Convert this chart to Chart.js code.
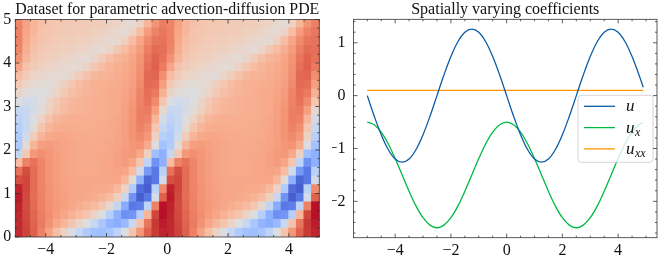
<!DOCTYPE html>
<html lang="en">
<head>
  <meta charset="UTF-8">
  <title>Parametric advection-diffusion PDE</title>
  <script src="https://cdn.jsdelivr.net/npm/chart.js@4.4.1/dist/chart.umd.min.js"></script>
  <style>
    html, body { margin: 0; padding: 0; background: #fff; }
    #wrap { position: relative; width: 664px; height: 258px; overflow: hidden; }
    canvas { position: absolute; top: 0; }
    #heatChart { left: 0; }
    #coefChart { left: 332px; }
  </style>
</head>
<body>
<div id="wrap">
  <canvas id="heatChart" width="332" height="258"></canvas>
  <canvas id="coefChart" width="332" height="258"></canvas>
</div>
<script>
// ---- left panel: u(x, t), cell centres ----
const heatX = [-4.875, -4.625, -4.375, -4.125, -3.875, -3.625, -3.375, -3.125, -2.875, -2.625,
  -2.375, -2.125, -1.875, -1.625, -1.375, -1.125, -0.875, -0.625, -0.375, -0.125,
  0.125, 0.375, 0.625, 0.875, 1.125, 1.375, 1.625, 1.875, 2.125, 2.375,
  2.625, 2.875, 3.125, 3.375, 3.625, 3.875, 4.125, 4.375, 4.625, 4.875];
const heatT = [0.1, 0.3, 0.5, 0.7, 0.9, 1.1, 1.3, 1.5, 1.7, 1.9, 2.1, 2.3, 2.5,
  2.7, 2.9, 3.1, 3.3, 3.5, 3.7, 3.9, 4.1, 4.3, 4.5, 4.7, 4.9];
const heatU = [
  [.98,.87,.71,.5,.27,.03,-.21,-.45,-.67,-.86,-.98,-1,-.94,-.74,-.42,-.03,.36,.69,.9,1, .98,.87,.71,.5,.27,.03,-.21,-.45,-.67,-.86,-.98,-1,-.94,-.74,-.42,-.03,.36,.69,.9,1],
  [.98,.85,.69,.54,.39,.24,.1,-.06,-.23,-.43,-.65,-.9,-1.1,-1.18,-1.05,-.62,-.02,.58,.92,1.02, .98,.85,.69,.54,.39,.24,.1,-.06,-.23,-.43,-.65,-.9,-1.1,-1.18,-1.05,-.62,-.02,.58,.92,1.02],
  [.99,.83,.67,.53,.42,.32,.24,.15,.05,-.06,-.22,-.44,-.8,-1.15,-1.42,-1.38,-.8,.1,.85,1.05, .99,.83,.67,.53,.42,.32,.24,.15,.05,-.06,-.22,-.44,-.8,-1.15,-1.42,-1.38,-.8,.1,.85,1.05],
  [1,.82,.65,.51,.41,.34,.28,.23,.18,.12,.06,-.07,-.3,-.68,-1.2,-1.6,-1.55,-.72,.5,1.05, 1,.82,.65,.51,.41,.34,.28,.23,.18,.12,.06,-.07,-.3,-.68,-1.2,-1.6,-1.55,-.72,.5,1.05],
  [1.02,.83,.63,.5,.4,.33,.29,.25,.23,.2,.18,.13,.05,-.18,-.62,-1.4,-1.78,-1.6,-.5,.7, 1.02,.83,.63,.5,.4,.33,.29,.25,.23,.2,.18,.13,.05,-.18,-.62,-1.4,-1.78,-1.6,-.5,.7],
  [1,.85,.63,.48,.39,.32,.28,.25,.23,.23,.22,.21,.19,.08,-.22,-.85,-1.68,-1.78,-.75,.45, 1,.85,.63,.48,.39,.32,.28,.25,.23,.23,.22,.21,.19,.08,-.22,-.85,-1.68,-1.78,-.75,.45],
  [.8,.85,.64,.48,.38,.31,.27,.25,.23,.23,.23,.23,.24,.25,.1,-.35,-1.15,-1.72,-1.6,-.55, .8,.85,.64,.48,.38,.31,.27,.25,.23,.23,.23,.23,.24,.25,.1,-.35,-1.15,-1.72,-1.6,-.55],
  [.6,.82,.64,.48,.37,.3,.26,.24,.22,.22,.22,.23,.25,.27,.25,.05,-.55,-1.35,-1.6,-.75, .6,.82,.64,.48,.37,.3,.26,.24,.22,.22,.22,.23,.25,.27,.25,.05,-.55,-1.35,-1.6,-.75],
  [.05,.5,.6,.48,.37,.3,.26,.23,.22,.21,.21,.23,.25,.28,.32,.25,-.05,-.7,-1.4,-1.15, .05,.5,.6,.48,.37,.3,.26,.23,.22,.21,.21,.23,.25,.28,.32,.25,-.05,-.7,-1.4,-1.15],
  [-.65,-.1,.35,.42,.36,.3,.26,.23,.21,.2,.21,.22,.24,.27,.32,.35,.22,-.2,-1,-1.15, -.65,-.1,.35,.42,.36,.3,.26,.23,.21,.2,.21,.22,.24,.27,.32,.35,.22,-.2,-1,-1.15],
  [-.85,-.35,.1,.3,.32,.29,.26,.23,.21,.2,.2,.21,.23,.26,.3,.36,.38,.2,-.45,-.95, -.85,-.35,.1,.3,.32,.29,.26,.23,.21,.2,.2,.21,.23,.26,.3,.36,.38,.2,-.45,-.95],
  [-.85,-.55,-.15,.12,.22,.24,.24,.22,.2,.19,.19,.2,.22,.25,.3,.38,.45,.35,-.2,-.8, -.85,-.55,-.15,.12,.22,.24,.24,.22,.2,.19,.19,.2,.22,.25,.3,.38,.45,.35,-.2,-.8],
  [-.8,-.65,-.35,-.05,.1,.17,.19,.19,.18,.18,.18,.19,.21,.24,.3,.38,.5,.42,-.05,-.65, -.8,-.65,-.35,-.05,.1,.17,.19,.19,.18,.18,.18,.19,.21,.24,.3,.38,.5,.42,-.05,-.65],
  [-.72,-.65,-.45,-.22,-.02,.1,.15,.17,.17,.17,.17,.18,.2,.23,.29,.38,.52,.5,.1,-.5, -.72,-.65,-.45,-.22,-.02,.1,.15,.17,.17,.17,.17,.18,.2,.23,.29,.38,.52,.5,.1,-.5],
  [-.65,-.62,-.5,-.35,-.18,-.05,.05,.1,.13,.15,.17,.18,.2,.22,.28,.38,.52,.55,.3,-.3, -.65,-.62,-.5,-.35,-.18,-.05,.05,.1,.13,.15,.17,.18,.2,.22,.28,.38,.52,.55,.3,-.3],
  [-.45,-.55,-.5,-.4,-.25,-.1,.02,.08,.12,.15,.17,.18,.2,.22,.27,.35,.5,.6,.45,-.05, -.45,-.55,-.5,-.4,-.25,-.1,.02,.08,.12,.15,.17,.18,.2,.22,.27,.35,.5,.6,.45,-.05],
  [-.25,-.36,-.42,-.42,-.36,-.24,-.1,0,.08,.12,.15,.17,.19,.21,.25,.32,.48,.62,.55,.15, -.25,-.36,-.42,-.42,-.36,-.24,-.1,0,.08,.12,.15,.17,.19,.21,.25,.32,.48,.62,.55,.15],
  [-.1,-.24,-.32,-.35,-.35,-.3,-.19,-.07,.03,.1,.14,.16,.18,.2,.24,.3,.45,.65,.62,.3, -.1,-.24,-.32,-.35,-.35,-.3,-.19,-.07,.03,.1,.14,.16,.18,.2,.24,.3,.45,.65,.62,.3],
  [.05,-.12,-.22,-.28,-.32,-.34,-.34,-.26,-.13,-.02,.07,.12,.15,.18,.22,.28,.42,.65,.67,.42, .05,-.12,-.22,-.28,-.32,-.34,-.34,-.26,-.13,-.02,.07,.12,.15,.18,.22,.28,.42,.65,.67,.42],
  [.25,-.02,-.12,-.18,-.22,-.27,-.3,-.33,-.32,-.21,-.07,.05,.12,.16,.2,.27,.4,.62,.7,.55, .25,-.02,-.12,-.18,-.22,-.27,-.3,-.33,-.32,-.21,-.07,.05,.12,.16,.2,.27,.4,.62,.7,.55],
  [.4,.1,-.05,-.12,-.16,-.19,-.22,-.27,-.31,-.33,-.27,-.13,0,.1,.16,.24,.38,.58,.68,.6, .4,.1,-.05,-.12,-.16,-.19,-.22,-.27,-.31,-.33,-.27,-.13,0,.1,.16,.24,.38,.58,.68,.6],
  [.48,.17,0,-.08,-.12,-.15,-.17,-.19,-.23,-.27,-.31,-.33,-.25,-.08,.05,.18,.33,.52,.64,.62, .48,.17,0,-.08,-.12,-.15,-.17,-.19,-.23,-.27,-.31,-.33,-.25,-.08,.05,.18,.33,.52,.64,.62],
  [.5,.22,.05,-.04,-.08,-.11,-.13,-.14,-.17,-.19,-.22,-.27,-.32,-.32,-.17,.05,.25,.45,.58,.6, .5,.22,.05,-.04,-.08,-.11,-.13,-.14,-.17,-.19,-.22,-.27,-.32,-.32,-.17,.05,.25,.45,.58,.6],
  [.5,.25,.1,-.02,-.06,-.08,-.1,-.12,-.13,-.14,-.17,-.19,-.24,-.3,-.34,-.21,.05,.32,.5,.57, .5,.25,.1,-.02,-.06,-.08,-.1,-.12,-.13,-.14,-.17,-.19,-.24,-.3,-.34,-.21,.05,.32,.5,.57],
  [.48,.28,.12,0,-.04,-.07,-.08,-.1,-.11,-.12,-.14,-.15,-.19,-.24,-.3,-.34,-.21,.1,.38,.52, .48,.28,.12,0,-.04,-.07,-.08,-.1,-.11,-.12,-.14,-.15,-.19,-.24,-.3,-.34,-.21,.1,.38,.52]
];
const heatXTicks = [-4, -2, 0, 2, 4];
const heatYTicks = [0, 1, 2, 3, 4, 5];
const heatTitle = 'Dataset for parametric advection-diffusion PDE';

// ---- right panel: coefficients ----
const coefX = [-5, -4.75, -4.5, -4.25, -4, -3.75, -3.5, -3.25, -3, -2.75,
  -2.5, -2.25, -2, -1.75, -1.5, -1.25, -1, -0.75, -0.5, -0.25,
  0, 0.25, 0.5, 0.75, 1, 1.25, 1.5, 1.75, 2, 2.25,
  2.5, 2.75, 3, 3.25, 3.5, 3.75, 4, 4.25, 4.5, 4.75, 4.9];
const coefU = [0, -.39, -.74, -1.02, -1.2, -1.26, -1.2, -1.02, -.74, -.39,
  0, .39, .74, 1.02, 1.2, 1.26, 1.2, 1.02, .74, .39,
  0, -.39, -.74, -1.02, -1.2, -1.26, -1.2, -1.02, -.74, -.39,
  0, .39, .74, 1.02, 1.2, 1.26, 1.2, 1.02, .74, .39, .16];
const coefUx = [-.5, -.55, -.69, -.91, -1.19, -1.5, -1.81, -2.09, -2.31, -2.45,
  -2.5, -2.45, -2.31, -2.09, -1.81, -1.5, -1.19, -.91, -.69, -.55,
  -.5, -.55, -.69, -.91, -1.19, -1.5, -1.81, -2.09, -2.31, -2.45,
  -2.5, -2.45, -2.31, -2.09, -1.81, -1.5, -1.19, -.91, -.69, -.55, -.51];
const coefUxx = [.1, .1, .1, .1, .1, .1, .1, .1, .1, .1,
  .1, .1, .1, .1, .1, .1, .1, .1, .1, .1,
  .1, .1, .1, .1, .1, .1, .1, .1, .1, .1,
  .1, .1, .1, .1, .1, .1, .1, .1, .1, .1, .1];
const coefNames = ['u', 'u_x', 'u_xx'];
const coefXTicks = [-4, -2, 0, 2, 4];
const coefYTicks = [-2, -1, 0, 1];
const coefTitle = 'Spatially varying coefficients';

// coolwarm, 33 stops
const coolwarm = [[59,76,192],[68,90,204],[77,104,215],[87,117,225],[98,130,234],[108,142,241],
  [119,154,247],[130,165,251],[141,176,254],[152,185,255],[163,194,255],[174,201,253],[184,208,249],
  [194,213,244],[204,217,238],[213,219,230],[221,221,221],[229,216,209],[236,211,197],[241,204,185],
  [245,196,173],[247,187,160],[247,177,148],[247,166,135],[244,154,123],[241,141,111],[236,127,99],
  [229,112,88],[222,96,77],[213,80,66],[203,62,56],[192,40,47],[180,4,38]];
const vMin = -1.9, vMax = 1.08;

function cmap(v) {
  let s = Math.min(1, Math.max(0, (v - vMin) / (vMax - vMin))) * (coolwarm.length - 1);
  const i = Math.min(Math.floor(s), coolwarm.length - 2), f = s - i;
  const a = coolwarm[i], b = coolwarm[i + 1];
  return 'rgb(' + a.map((c, k) => Math.round(c + (b[k] - c) * f)).join(',') + ')';
}

const fmt = v => (v < 0 ? '\u2212' + (-v) : String(v));
const SERIF = '"Liberation Serif", "Times New Roman", serif';
Chart.defaults.font.family = SERIF;
Chart.defaults.font.size = 16;
Chart.defaults.color = '#111';

// spines + inward ticks on all four sides (matplotlib "science" look)
const framePlugin = {
  id: 'frame',
  afterDraw(chart, args, o) {
    const { ctx, chartArea: a } = chart;
    const xs = chart.scales[o.x], ys = chart.scales[o.y];
    const minors = (s, step, majors) => {
      const out = [];
      for (let k = Math.ceil(s.min / step - 1e-9); k * step <= s.max + 1e-9; k++) {
        const v = k * step;
        if (!majors.some(m => Math.abs(m - v) < 1e-6)) out.push(v);
      }
      return out;
    };
    ctx.save();
    ctx.strokeStyle = '#333';
    ctx.lineWidth = 0.8;
    ctx.strokeRect(a.left, a.top, a.right - a.left, a.bottom - a.top);
    const xt = (vals, len) => vals.forEach(v => {
      const p = xs.getPixelForValue(v);
      ctx.beginPath();
      ctx.moveTo(p, a.bottom); ctx.lineTo(p, a.bottom - len);
      ctx.moveTo(p, a.top); ctx.lineTo(p, a.top + len);
      ctx.stroke();
    });
    const yt = (vals, len) => vals.forEach(v => {
      const p = ys.getPixelForValue(v);
      ctx.beginPath();
      ctx.moveTo(a.left, p); ctx.lineTo(a.left + len, p);
      ctx.moveTo(a.right, p); ctx.lineTo(a.right - len, p);
      ctx.stroke();
    });
    xt(o.xMajor, 4); yt(o.yMajor, 4);
    xt(minors(xs, o.xStep, o.xMajor), 2);
    yt(minors(ys, o.yStep, o.yMajor), 2);
    ctx.restore();
  }
};

// legend with subscripts
const mathLegend = {
  id: 'mathLegend',
  afterDatasetsDraw(chart) {
    const { ctx, chartArea: a } = chart;
    const w = 75, h = 67, x0 = a.right - 4 - w, y0 = a.top + 76;
    ctx.save();
    ctx.beginPath();
    ctx.roundRect(x0, y0, w, h, 3);
    ctx.fillStyle = 'rgba(255,255,255,0.8)';
    ctx.fill();
    ctx.strokeStyle = 'rgba(204,204,204,0.8)';
    ctx.lineWidth = 1;
    ctx.stroke();
    chart.data.datasets.forEach((ds, i) => {
      const y = y0 + 11 + i * 21.3;
      ctx.strokeStyle = ds.borderColor;
      ctx.lineWidth = ds.borderWidth;
      ctx.beginPath(); ctx.moveTo(x0 + 6, y); ctx.lineTo(x0 + 37, y); ctx.stroke();
      const [base, sub] = ds.label.split('_');
      ctx.fillStyle = '#111';
      ctx.textBaseline = 'alphabetic';
      ctx.font = 'italic 17px ' + SERIF;
      ctx.fillText(base, x0 + 48, y + 5);
      if (sub) {
        const bw = ctx.measureText(base).width;
        ctx.font = 'italic 12px ' + SERIF;
        ctx.fillText(sub, x0 + 48 + bw + 0.5, y + 8.5);
      }
    });
    ctx.restore();
  }
};

const tickCfg = (pad) => ({ padding: pad, color: '#111', font: { size: 16 }, callback: v => fmt(v) });
const setTicks = arr => s => { s.ticks = arr.map(v => ({ value: v })); };

// ---- heatmap: floating bars, one dataset per t-row ----
const halfT = (heatT[1] - heatT[0]) / 2;
new Chart(document.getElementById('heatChart'), {
  type: 'bar',
  data: {
    labels: heatX.map(String),
    datasets: heatT.map((t, j) => ({
      data: heatX.map(() => [t - halfT, t + halfT]),
      backgroundColor: heatU[j].map(cmap),
      xAxisID: 'x', yAxisID: 'y',
      grouped: false, barPercentage: 1, categoryPercentage: 1,
      borderWidth: 0, borderSkipped: false, inflateAmount: 0.6
    }))
  },
  options: {
    responsive: false, animation: false, events: [],
    layout: { padding: { top: 0, right: 12.7, bottom: 0, left: 0 } },
    plugins: {
      legend: { display: false }, tooltip: { enabled: false },
      title: { display: true, text: heatTitle, fullSize: false, color: '#111',
        font: { size: 16, weight: 'normal', lineHeight: 1 }, padding: { top: 1.5, bottom: 2 } },
      frame: { x: 'xt', y: 'y', xMajor: heatXTicks, yMajor: heatYTicks, xStep: 0.5, yStep: 0.2 }
    },
    scales: {
      x: { type: 'category', display: false, offset: true },
      xt: { type: 'linear', axis: 'x', position: 'bottom', min: -5, max: 5, offset: false,
        grid: { display: false, drawTicks: false, offset: false }, border: { display: false },
        ticks: tickCfg(3), afterBuildTicks: setTicks(heatXTicks), afterFit: s => { s.height = 21; } },
      y: { type: 'linear', min: 0, max: 5,
        grid: { display: false, drawTicks: false }, border: { display: false },
        ticks: tickCfg(4), afterBuildTicks: setTicks(heatYTicks), afterFit: s => { s.width = 15.3; } }
    }
  },
  plugins: [framePlugin]
});

// ---- coefficients ----
const coefColors = ['#0C5DA5', '#00B945', '#FF9500'];
const coefSeries = [coefU, coefUx, coefUxx];
new Chart(document.getElementById('coefChart'), {
  type: 'scatter',
  data: {
    datasets: coefSeries.map((ys, i) => ({
      label: coefNames[i],
      data: coefX.map((x, k) => ({ x: x, y: ys[k] })),
      showLine: true, borderColor: coefColors[i], borderWidth: 1.3,
      pointRadius: 0, tension: 0.35, fill: false
    }))
  },
  options: {
    responsive: false, animation: false, events: [],
    layout: { padding: { top: 0, right: 7, bottom: 0, left: 0 } },
    plugins: {
      legend: { display: false }, tooltip: { enabled: false },
      title: { display: true, text: coefTitle, fullSize: false, color: '#111',
        font: { size: 16, weight: 'normal', lineHeight: 1 }, padding: { top: 1.5, bottom: 1.8 } },
      frame: { x: 'x', y: 'y', xMajor: coefXTicks, yMajor: coefYTicks, xStep: 0.5, yStep: 0.2 }
    },
    scales: {
      x: { type: 'linear', min: -5.495, max: 5.395,
        grid: { display: false, drawTicks: false }, border: { display: false },
        ticks: tickCfg(3), afterBuildTicks: setTicks(coefXTicks), afterFit: s => { s.height = 20.3; } },
      y: { type: 'linear', min: -2.688, max: 1.444,
        grid: { display: false, drawTicks: false }, border: { display: false },
        ticks: tickCfg(8), afterBuildTicks: setTicks(coefYTicks), afterFit: s => { s.width = 21.5; } }
    }
  },
  plugins: [framePlugin, mathLegend]
});
</script>
</body>
</html>
